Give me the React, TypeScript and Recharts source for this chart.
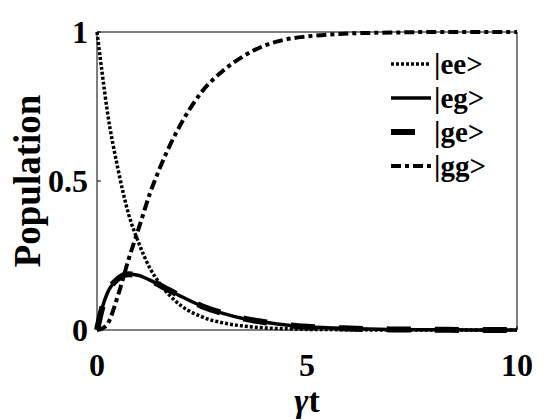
import React from "react";
import {
  LineChart,
  Line,
  XAxis,
  YAxis,
  ReferenceLine,
  Label,
} from "recharts";

// time axis (gamma * t) and the four populations
const times = [0, 0.125, 0.25, 0.5, 0.75, 1, 1.25, 1.5, 2, 2.5, 3, 3.5, 4, 4.5, 5, 6, 7, 8, 9, 10];
const popEE = [1, 0.86, 0.73, 0.54, 0.39, 0.29, 0.21, 0.155, 0.082, 0.044, 0.024, 0.013, 0.007, 0.004, 0.002, 0.001, 0, 0, 0, 0];
const popEG = [0, 0.075, 0.125, 0.172, 0.187, 0.183, 0.168, 0.15, 0.113, 0.08, 0.056, 0.038, 0.026, 0.017, 0.011, 0.005, 0.002, 0.001, 0, 0];
const popGE = [0, 0.075, 0.125, 0.172, 0.187, 0.183, 0.168, 0.15, 0.113, 0.08, 0.056, 0.038, 0.026, 0.017, 0.011, 0.005, 0.002, 0.001, 0, 0];
const popGG = [0, 0.005, 0.02, 0.116, 0.236, 0.344, 0.454, 0.545, 0.692, 0.8, 0.87, 0.92, 0.955, 0.975, 0.985, 0.995, 0.998, 1, 1, 1];

const xTicks = [0, 5, 10];
const yTicks = [0, 0.5, 1];
const yTickLabels = ["0", "0.5", "1"];
const stateNames = ["|ee>", "|eg>", "|ge>", "|gg>"];

const data = times.map((t, i) => ({
  t,
  ee: popEE[i],
  eg: popEG[i],
  ge: popGE[i],
  gg: popGG[i],
}));

const FONT = '"Liberation Serif", "Times New Roman", serif';

const series = [
  { key: "ee", width: 3.5, dash: "3 2" },
  { key: "eg", width: 3.5, dash: undefined },
  { key: "ge", width: 6, dash: "24 24" },
  { key: "gg", width: 4, dash: "10 4 4 4" },
];

const tickFont = { fill: "#000", fontSize: 32, fontWeight: "bold", fontFamily: FONT };

const LegendBox = () => (
  <div
    style={{
      position: "absolute",
      left: 391,
      top: 47,
      fontFamily: FONT,
      fontWeight: "bold",
      fontSize: 29,
      color: "#000",
    }}
  >
    {series.map((s, i) => (
      <div key={s.key} style={{ display: "flex", alignItems: "center", height: 34 }}>
        <svg width={42} height={12} style={{ marginRight: 1 }}>
          <line
            x1={0}
            x2={40}
            y1={6}
            y2={6}
            stroke="#000"
            strokeWidth={s.width}
            strokeDasharray={s.dash}
          />
        </svg>
        <span>{stateNames[i]}</span>
      </div>
    ))}
  </div>
);

const App: React.FC = () => {
  return (
    <div style={{ position: "absolute", left: 0, top: 0, width: 560, height: 420, background: "#fff" }}>
      <LineChart
        width={560}
        height={420}
        data={data}
        margin={{ top: 32, right: 43, left: 37, bottom: 40 }}
      >
        <XAxis
          dataKey="t"
          type="number"
          domain={[0, 10]}
          ticks={xTicks}
          tickLine={{ stroke: "#000" }}
          tickSize={-4}
          axisLine={{ stroke: "#000" }}
          height={50}
          tickMargin={27}
          tick={tickFont}
        >
          <Label
            content={(props: any) => {
              const vb = props.viewBox || {};
              return (
                <text
                  x={vb.x + vb.width / 2}
                  y={412}
                  textAnchor="middle"
                  fontFamily={FONT}
                  fontWeight="bold"
                  fontSize={34}
                  fill="#000"
                >
                  <tspan fontStyle="italic">γ</tspan>t
                </text>
              );
            }}
          />
        </XAxis>
        <YAxis
          type="number"
          domain={[0, 1]}
          ticks={yTicks}
          tickFormatter={(v: number) => yTickLabels[yTicks.indexOf(v)]}
          tickLine={{ stroke: "#000" }}
          tickSize={-4}
          tickMargin={13}
          axisLine={{ stroke: "#000" }}
          width={60}
          tick={tickFont}
        >
          <Label
            content={(props: any) => {
              const vb = props.viewBox || {};
              const cy = vb.y + vb.height / 2;
              return (
                <text
                  transform={`translate(27, ${cy}) rotate(-90)`}
                  textAnchor="middle"
                  dominantBaseline="central"
                  fontFamily={FONT}
                  fontWeight="bold"
                  fontSize={37}
                  fill="#000"
                >
                  Population
                </text>
              );
            }}
          />
        </YAxis>
        <ReferenceLine y={1} stroke="#000" strokeWidth={1} />
        <ReferenceLine x={10} stroke="#000" strokeWidth={1} />
        {series.map((s) => (
          <Line
            key={s.key}
            type="monotone"
            dataKey={s.key}
            stroke="#000"
            strokeWidth={s.width}
            strokeDasharray={s.dash}
            dot={false}
            isAnimationActive={false}
          />
        ))}
      </LineChart>
      <LegendBox />
    </div>
  );
};

export default App;
